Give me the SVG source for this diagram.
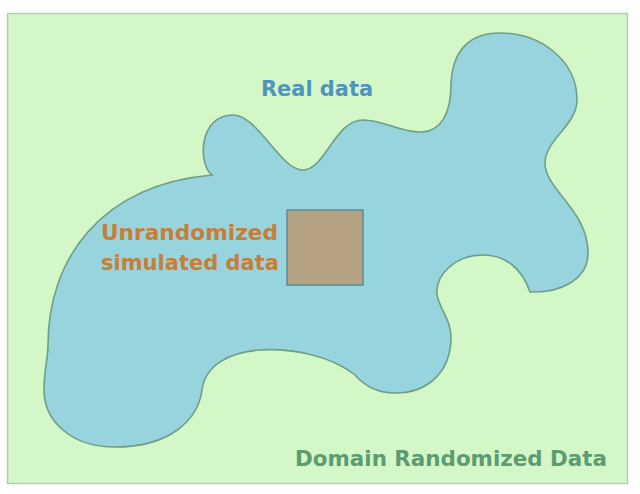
<svg xmlns="http://www.w3.org/2000/svg" width="640" height="494" viewBox="0 0 640 494">
  <style>
    .lbl { font-family: "DejaVu Sans", "Liberation Sans", Arial, sans-serif; font-weight: bold; }
  </style>
  <rect x="0" y="0" width="640" height="494" fill="#ffffff"/>
  <g id="domain-randomized">
    <rect x="7.5" y="13.5" width="620" height="470" fill="#d3f7c7" stroke="#bcc8b8" stroke-width="1.5"/>
    <text class="lbl" x="295" y="466" font-size="22" fill="#5c9c70" textLength="312" lengthAdjust="spacingAndGlyphs">Domain Randomized Data</text>
  </g>
  <g id="real-data">
    <path d="M 500 33 C 540 33 577 60 577 100 C 577 125 545 140 545 163 C 545 190 588 210 588 253 C 588 280 560 293 530 292 C 522 268 505 255 483 255 C 455 255 435 275 437 295 C 440 310 451 320 451 337 C 451 370 430 393 395 393 C 375 393 362 383 355 375 C 330 355 290 348 260 350 C 230 352 205 365 202 390 C 198 420 170 447 115 447 C 70 447 44 420 44 390 C 44 370 48 358 48 345 C 48 260 100 185 212 175 C 198 165 198 115 233 115 C 258 115 280 170 303 170 C 325 170 335 120 363 120 C 385 120 400 133 422 132 C 440 131 451 115 451 85 C 452 50 470 33 500 33 Z" fill="#97d4dd" stroke="#6f9e88" stroke-width="1.6"/>
    <text class="lbl" x="261" y="96" font-size="21" fill="#4d95be" textLength="112" lengthAdjust="spacingAndGlyphs">Real data</text>
  </g>
  <g id="unrandomized-sim">
    <rect x="287" y="210" width="76" height="75" fill="#b4a283" stroke="#5e8b93" stroke-width="1.5"/>
    <text class="lbl" x="101" y="240" font-size="21" fill="#c77e36" textLength="177" lengthAdjust="spacingAndGlyphs">Unrandomized</text>
    <text class="lbl" x="101" y="270" font-size="21" fill="#c77e36" textLength="178" lengthAdjust="spacingAndGlyphs">simulated data</text>
  </g>
</svg>
